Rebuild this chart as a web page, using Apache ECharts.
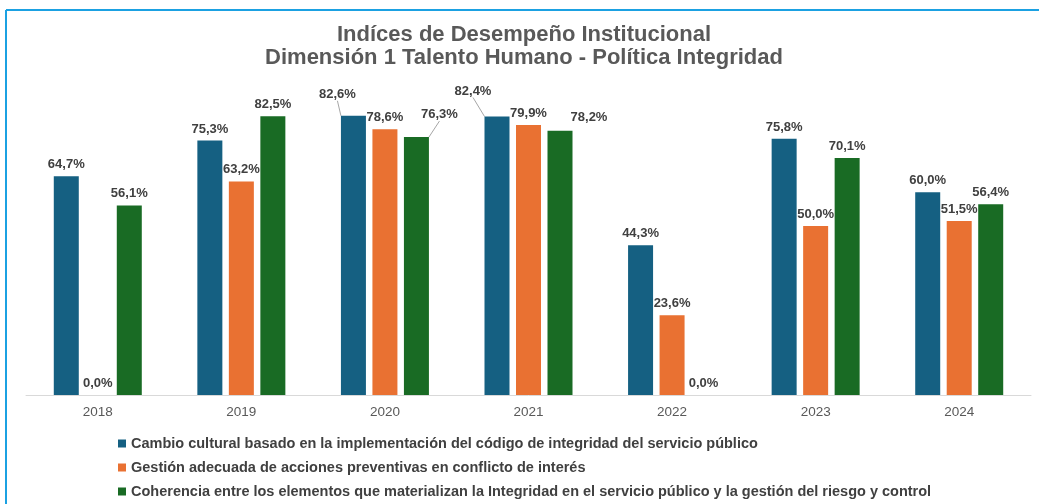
<!DOCTYPE html>
<html>
<head>
<meta charset="utf-8">
<script src="https://cdn.jsdelivr.net/npm/echarts@6/dist/echarts.min.js"></script>
<style>
  html, body { margin: 0; padding: 0; background: #ffffff; }
  #chart { width: 1039px; height: 504px; }
</style>
</head>
<body>
<div id="chart"></div>
<script>
const categories = ['2018', '2019', '2020', '2021', '2022', '2023', '2024'];
const seriesNames = [
  'Cambio cultural basado en la implementación del código de integridad del servicio público',
  'Gestión adecuada de acciones preventivas en conflicto de interés',
  'Coherencia entre los elementos que materializan la Integridad en el servicio público y la gestión del riesgo y control'
];
const cambioCultural = [64.7, 75.3, 82.6, 82.4, 44.3, 75.8, 60.0];
const gestionConflicto = [0.0, 63.2, 78.6, 79.9, 23.6, 50.0, 51.5];
const coherencia = [56.1, 82.5, 76.3, 78.2, 0.0, 70.1, 56.4];

const colors = ['#156082', '#E97132', '#196B24'];
const FONT = '"Liberation Sans", Arial, sans-serif';

// label displacements (style only), keyed by series index and category index
const labelMoves = {
  0: { 2: { dx: -16, dy: -10, line: true }, 3: { dx: -24, dy: -14, line: true } },
  2: { 2: { dx: 23, dy: -11, line: true }, 3: { dx: 29, dy: -2, line: false } }
};

function fmt(v) { return v.toFixed(1).replace('.', ',') + '%'; }

function buildSeries(values, idx) {
  const moves = labelMoves[idx] || {};
  return {
    name: seriesNames[idx],
    type: 'bar',
    barWidth: 25,
    barGap: '26%',
    itemStyle: { color: colors[idx] },
    label: {
      show: true,
      position: 'top',
      distance: 5,
      color: '#404040',
      fontFamily: FONT,
      fontWeight: 'bold',
      fontSize: 13,
      formatter: p => fmt(p.value)
    },
    labelLine: { show: false, lineStyle: { color: '#a6a6a6', width: 1 } },
    labelLayout: function (p) {
      const m = moves[p.dataIndex];
      if (m) return { dx: m.dx, dy: m.dy };
      return {};
    },
    data: values.map((v, i) => {
      const m = moves[i];
      if (m && m.line) {
        return { value: v, labelLine: { show: true, smooth: false, length2: 0, lineStyle: { color: '#a6a6a6', width: 1 } } };
      }
      return v;
    })
  };
}

const chart = echarts.init(document.getElementById('chart'), null, { renderer: 'canvas' });
chart.setOption({
  backgroundColor: '#ffffff',
  animation: false,
  title: {
    text: 'Indíces de Desempeño Institucional\nDimensión 1 Talento Humano - Política Integridad',
    left: 524,
    top: 23,
    textAlign: 'center',
    padding: 0,
    textStyle: {
      fontFamily: FONT,
      fontWeight: 'bold',
      fontSize: 22,
      lineHeight: 23,
      color: '#595959'
    }
  },
  legend: {
    orient: 'vertical',
    left: 118,
    top: 436,
    padding: 0,
    itemWidth: 8,
    itemHeight: 8,
    itemGap: 9,
    icon: 'rect',
    textStyle: {
      fontFamily: FONT,
      fontWeight: 'bold',
      fontSize: 14.5,
      lineHeight: 14,
      color: '#404040'
    },
    data: seriesNames
  },
  grid: { left: 26, right: 8, top: 57, bottom: 109, containLabel: false },
  xAxis: {
    type: 'category',
    data: categories,
    axisLine: { lineStyle: { color: '#d9d9d9', width: 1 } },
    axisTick: { show: false },
    axisLabel: { color: '#595959', fontFamily: FONT, fontSize: 13.5, margin: 10 }
  },
  yAxis: {
    type: 'value',
    min: 0,
    max: 100,
    show: false,
    splitLine: { show: false }
  },
  graphic: [
    { type: 'line', shape: { x1: 6, y1: 10, x2: 1039, y2: 10 }, style: { stroke: '#1BA1E2', lineWidth: 2 }, silent: true },
    { type: 'line', shape: { x1: 6, y1: 10, x2: 6, y2: 504 }, style: { stroke: '#1BA1E2', lineWidth: 2 }, silent: true }
  ],
  series: [
    buildSeries(cambioCultural, 0),
    buildSeries(gestionConflicto, 1),
    buildSeries(coherencia, 2)
  ]
});
</script>
</body>
</html>
